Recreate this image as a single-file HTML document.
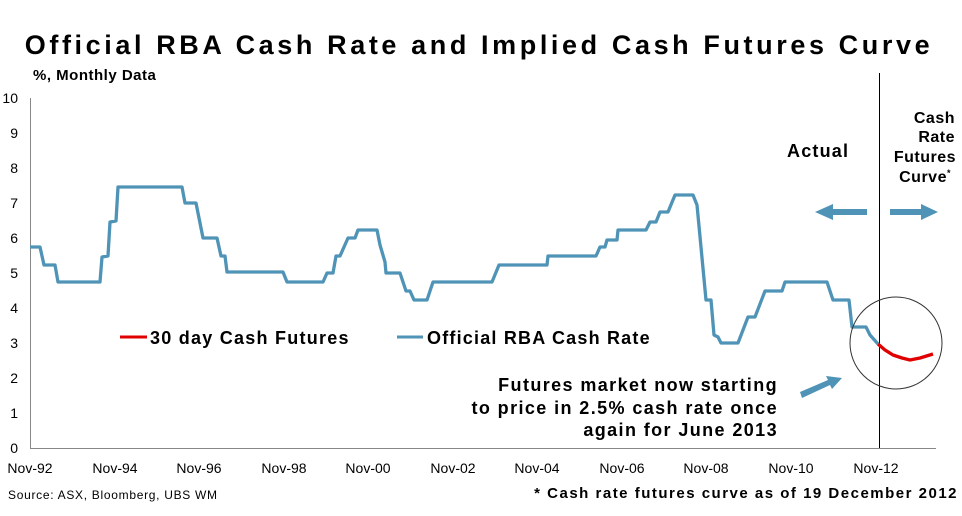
<!DOCTYPE html>
<html><head><meta charset="utf-8"><style>
body{margin:0;background:#fff}
svg{display:block;font-family:"Liberation Sans",Arial,sans-serif}
</style></head><body>
<svg width="962" height="516" viewBox="0 0 962 516">
<text x="479" y="54" text-anchor="middle" font-size="27" font-weight="bold" letter-spacing="3.6">Official RBA Cash Rate and Implied Cash Futures Curve</text>
<text x="33" y="80" font-size="15" font-weight="bold" letter-spacing="0.5">%, Monthly Data</text>
<g font-size="14" text-anchor="end">
<text x="18" y="103">10</text><text x="18" y="138">9</text><text x="18" y="173">8</text><text x="18" y="208">7</text><text x="18" y="243">6</text><text x="18" y="278">5</text><text x="18" y="313">4</text><text x="18" y="348">3</text><text x="18" y="383">2</text><text x="18" y="418">1</text><text x="18" y="453">0</text>
</g>
<line x1="30.5" y1="98" x2="30.5" y2="448" stroke="#888" stroke-width="1"/>
<line x1="30" y1="448.5" x2="936" y2="448.5" stroke="#888" stroke-width="1"/>
<g font-size="14" text-anchor="middle">
<text x="30" y="473">Nov-92</text><text x="115" y="473">Nov-94</text><text x="199" y="473">Nov-96</text><text x="284" y="473">Nov-98</text><text x="368" y="473">Nov-00</text><text x="453" y="473">Nov-02</text><text x="537" y="473">Nov-04</text><text x="622" y="473">Nov-06</text><text x="706" y="473">Nov-08</text><text x="791" y="473">Nov-10</text><text x="876" y="473">Nov-12</text>
</g>
<line x1="879.5" y1="73" x2="879.5" y2="448" stroke="#000" stroke-width="1"/>
<polyline fill="none" stroke="#4f93b6" stroke-width="3.3" stroke-linejoin="round" points="30,247 40,247 44,265 55,265 58,282 100,282 102,257 108,256 110,222 116,221 118,187 182,187 185,203 196,203 203,238 217,238 221,256 225,256 227,272 283,272 287,282 323,282 327,273 333,273 336,256 340,256 348,238 355,238 358,230 377,230 380,245 385,262 386,273 400,273 406,291 410,291 414,300 427,300 433,282 492,282 499,265 547,265 548,256 596,256 600,247 605,247 607,240 617,240 618,230 646,230 650,222 656,222 660,212 668,212 675,195 693,195 697,205 706,300 711,300 714,335 718,337 721,343 738,343 748,317 755,317 765,291 782,291 785,282 827,282 833,300 849,300 852,327 866,327 870,335 878,344"/>
<polyline fill="none" stroke="#e00000" stroke-width="3.3" stroke-linejoin="round" points="878,344 885,350 893,355 902,358 910,360 920,358 933,354"/>
<circle cx="896" cy="343" r="46" fill="none" stroke="#333" stroke-width="1"/>
<line x1="120" y1="337" x2="147" y2="337" stroke="#e00000" stroke-width="3"/>
<text x="150" y="344" font-size="18" font-weight="bold" letter-spacing="1.25">30 day Cash Futures</text>
<line x1="397" y1="337" x2="423" y2="337" stroke="#4f93b6" stroke-width="3"/>
<text x="427" y="344" font-size="18" font-weight="bold" letter-spacing="1.2">Official RBA Cash Rate</text>
<text x="787" y="157" font-size="18" font-weight="bold" letter-spacing="1.2">Actual</text>
<g font-size="16" font-weight="bold" text-anchor="end" letter-spacing="0.5">
<text x="955" y="123">Cash</text><text x="955" y="142">Rate</text><text x="956" y="162">Futures</text><text x="951" y="182">Curve<tspan font-size="9" dy="-6">*</tspan></text>
</g>
<g fill="#4f93b6">
<rect x="830" y="209" width="37" height="6"/><polygon points="815,212 833,204 833,220"/>
<rect x="890" y="209" width="35" height="6"/><polygon points="938,212 921,204 921,220"/>
<polygon points="800,392 828,380 826,376 842,378 832,389 830,385 802,398"/>
</g>
<g font-size="18" font-weight="bold" text-anchor="end" letter-spacing="1.4">
<text x="778" y="391">Futures market now  starting</text>
<text x="778" y="414">to price in 2.5%  cash rate once</text>
<text x="778" y="436">again for June 2013</text>
</g>
<text x="8" y="499" font-size="12" letter-spacing="0.7">Source: ASX, Bloomberg, UBS WM</text>
<text x="958" y="498" font-size="15" font-weight="bold" text-anchor="end" letter-spacing="1.5">* Cash rate futures curve as of 19 December 2012</text>
</svg>
</body></html>
